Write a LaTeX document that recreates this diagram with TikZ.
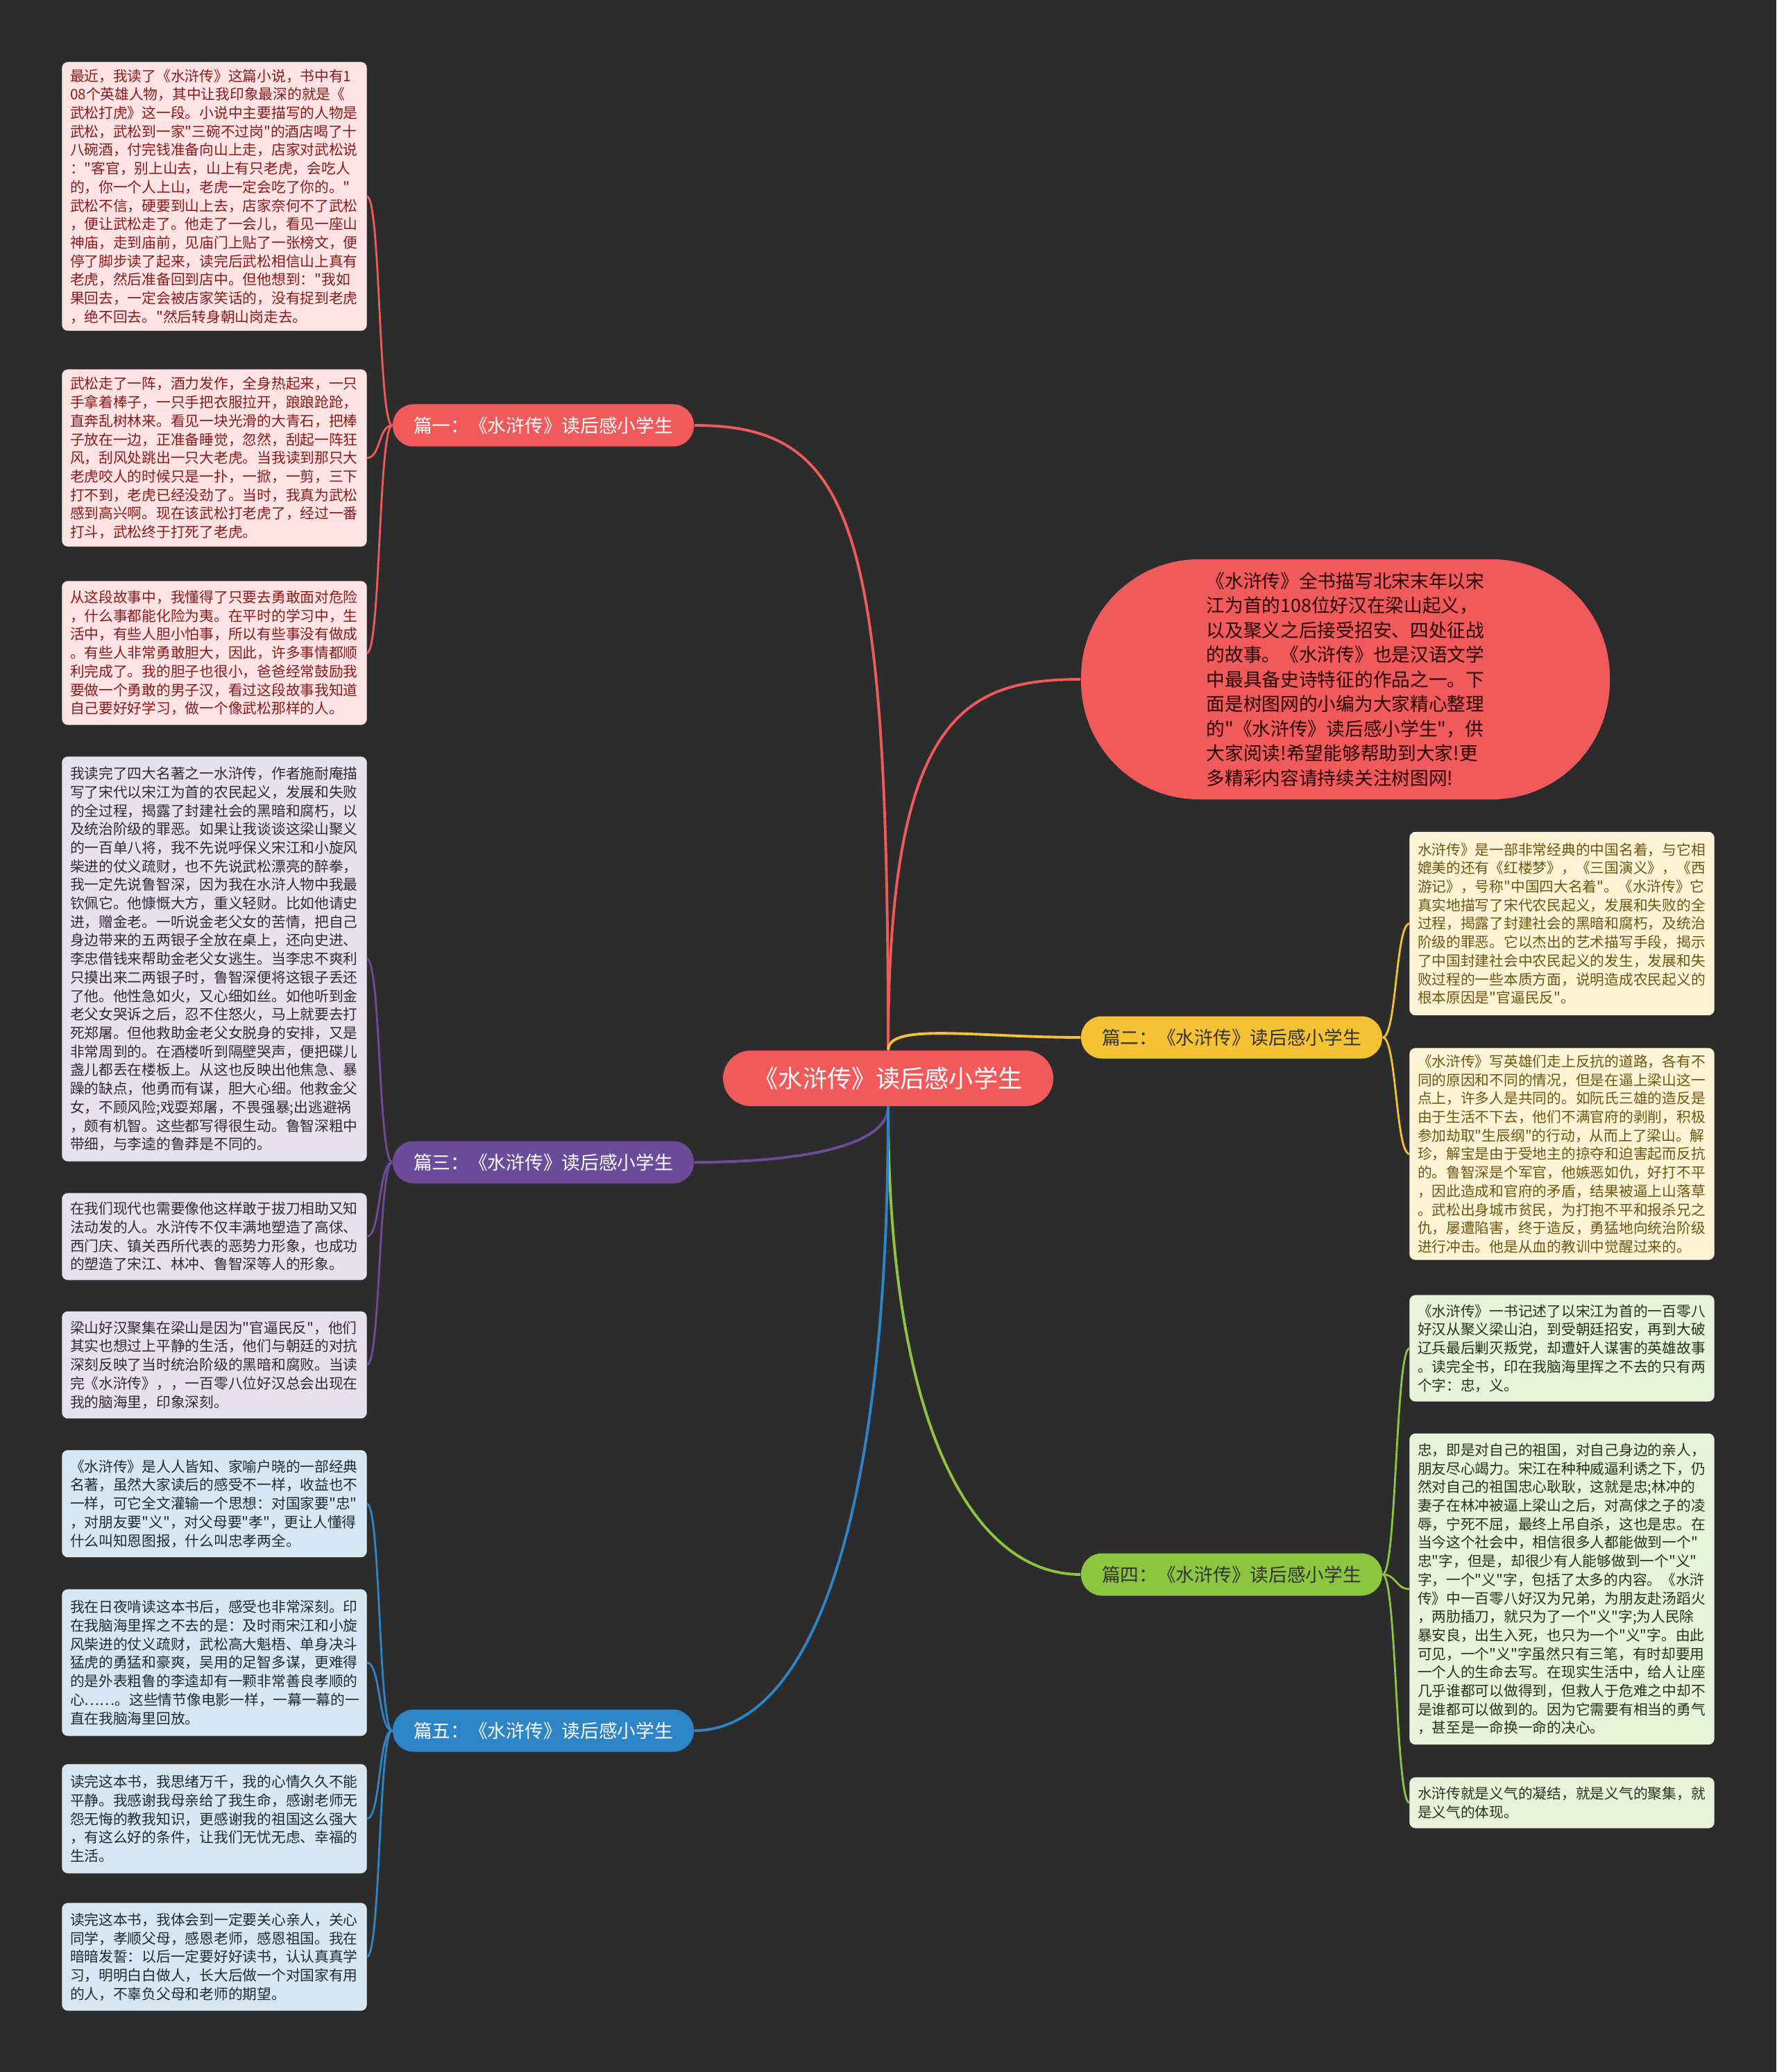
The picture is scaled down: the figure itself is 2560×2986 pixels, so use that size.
\documentclass[tikz,border=0pt]{standalone}
\usepackage{fontspec}
\newfontfamily\cjk{Noto Sans CJK SC}
\usepackage{tikz}
\usetikzlibrary{positioning}
\definecolor{bgcol}{HTML}{2C2C2C}
\definecolor{redc}{HTML}{F15A5A}
\definecolor{yellowc}{HTML}{F5C234}
\definecolor{purplec}{HTML}{6B4C9A}
\definecolor{bluec}{HTML}{2D84C6}
\definecolor{greenc}{HTML}{8CC540}
\definecolor{pinkfill}{HTML}{FDE3E3}
\definecolor{pinktext}{HTML}{8A1A1A}
\definecolor{lavfill}{HTML}{E6E1EF}
\definecolor{lavtext}{HTML}{2E2A3A}
\definecolor{skyfill}{HTML}{D6E7F3}
\definecolor{skytext}{HTML}{1E2B36}
\definecolor{creamfill}{HTML}{FDF4D6}
\definecolor{creamtext}{HTML}{6E5612}
\definecolor{leaffill}{HTML}{E8F2D9}
\definecolor{leaftext}{HTML}{26331A}
\tikzset{
  leaf/.style={rounded corners=0.8mm, align=left, text width=41.6mm, inner xsep=1.1mm, inner ysep=0pt, line width=0.4pt, font=\cjk\fontsize{5.9}{7.6}\selectfont},
  leafpink/.style={leaf, fill=pinkfill, draw=pinkfill!80!white, text=pinktext},
  leaflav/.style={leaf, fill=lavfill, draw=lavfill!80!white, text=lavtext},
  leafsky/.style={leaf, fill=skyfill, draw=skyfill!80!white, text=skytext},
  leafcream/.style={leaf, fill=creamfill, draw=creamfill!80!white, text=creamtext},
  leafgreen/.style={leaf, fill=leaffill, draw=leaffill!80!white, text=leaftext},
  branch/.style={rounded corners=3mm, minimum width=43.4mm, minimum height=6.1mm, inner sep=0pt, font=\cjk\fontsize{7.6}{9}\selectfont},
  link/.style={line width=1.1pt},
  twig/.style={line width=0.8pt}
}

\begin{document}
\begin{tikzpicture}[x=0.1mm, y=-0.1mm]
\fill[bgcol] (0,0) rectangle (2560,2986);

% centre and intro
\node[rounded corners=4mm, fill=redc, text=white, minimum width=47.6mm, minimum height=8mm, inner sep=0pt, font=\cjk\fontsize{10}{12}\selectfont] (theme) at (1280,1554) {《水浒传》读后感小学生};
\node[rounded corners=17mm, fill=redc, text=black!85!red, minimum width=76.2mm, minimum height=34.6mm, align=left, inner sep=0pt, font=\cjk\fontsize{7.6}{10.1}\selectfont] (intro) at (1939,979) {《水浒传》全书描写北宋末年以宋\\江为首的108位好汉在梁山起义，\\以及聚义之后接受招安、四处征战\\的故事。《水浒传》也是汉语文学\\中最具备史诗特征的作品之一。下\\面是树图网的小编为大家精心整理\\的"《水浒传》读后感小学生"，供\\大家阅读!希望能够帮助到大家!更\\多精彩内容请持续关注树图网!};

% branches
\node[branch, fill=redc, text=white] (p1) at (783,613) {篇一：《水浒传》读后感小学生};
\node[branch, fill=yellowc, text=black!80] (p2) at (1775,1495) {篇二：《水浒传》读后感小学生};
\node[branch, fill=purplec, text=white] (p3) at (783,1675) {篇三：《水浒传》读后感小学生};
\node[branch, fill=greenc, text=black!80] (p4) at (1775,2269) {篇四：《水浒传》读后感小学生};
\node[branch, fill=bluec, text=white] (p5) at (783,2494) {篇五：《水浒传》读后感小学生};

% leaves of p1
\node[leafpink, minimum height=38.6mm] (p1a) at (309,283) {最近，我读了《水浒传》这篇小说，书中有1\\08个英雄人物，其中让我印象最深的就是《\\武松打虎》这一段。小说中主要描写的人物是\\武松，武松到一家"三碗不过岗"的酒店喝了十\\八碗酒，付完钱准备向山上走，店家对武松说\\："客官，别上山去，山上有只老虎，会吃人\\的，你一个人上山，老虎一定会吃了你的。"\\武松不信，硬要到山上去，店家奈何不了武松\\，便让武松走了。他走了一会儿，看见一座山\\神庙，走到庙前，见庙门上贴了一张榜文，便\\停了脚步读了起来，读完后武松相信山上真有\\老虎，然后准备回到店中。但他想到："我如\\果回去，一定会被店家笑话的，没有捉到老虎\\，绝不回去。"然后转身朝山岗走去。};
\node[leafpink, minimum height=25.4mm] (p1b) at (309,660) {武松走了一阵，酒力发作，全身热起来，一只\\手拿着棒子，一只手把衣服拉开，踉踉跄跄，\\直奔乱树林来。看见一块光滑的大青石，把棒\\子放在一边，正准备睡觉，忽然，刮起一阵狂\\风，刮风处跳出一只大老虎。当我读到那只大\\老虎咬人的时候只是一扑，一掀，一剪，三下\\打不到，老虎已经没劲了。当时，我真为武松\\感到高兴啊。现在该武松打老虎了，经过一番\\打斗，武松终于打死了老虎。};
\node[leafpink, minimum height=20.6mm] (p1c) at (309,941) {从这段故事中，我懂得了只要去勇敢面对危险\\，什么事都能化险为夷。在平时的学习中，生\\活中，有些人胆小怕事，所以有些事没有做成\\。有些人非常勇敢胆大，因此，许多事情都顺\\利完成了。我的胆子也很小，爸爸经常鼓励我\\要做一个勇敢的男子汉，看过这段故事我知道\\自己要好好学习，做一个像武松那样的人。};

% leaves of p3
\node[leaflav, minimum height=58.2mm] (p3a) at (309,1382) {我读完了四大名著之一水浒传，作者施耐庵描\\写了宋代以宋江为首的农民起义，发展和失败\\的全过程，揭露了封建社会的黑暗和腐朽，以\\及统治阶级的罪恶。如果让我谈谈这梁山聚义\\的一百单八将，我不先说呼保义宋江和小旋风\\柴进的仗义疏财，也不先说武松漂亮的醉拳，\\我一定先说鲁智深，因为我在水浒人物中我最\\钦佩它。他慷慨大方，重义轻财。比如他请史\\进，赠金老。一听说金老父女的苦情，把自己\\身边带来的五两银子全放在桌上，还向史进、\\李忠借钱来帮助金老父女逃生。当李忠不爽利\\只摸出来二两银子时，鲁智深便将这银子丢还\\了他。他性急如火，又心细如丝。如他听到金\\老父女哭诉之后，忍不住怒火，马上就要去打\\死郑屠。但他救助金老父女脱身的安排，又是\\非常周到的。在酒楼听到隔壁哭声，便把碟儿\\盏儿都丢在楼板上。从这也反映出他焦急、暴\\躁的缺点，他勇而有谋，胆大心细。他救金父\\女，不顾风险;戏耍郑屠，不畏强暴;出逃避祸\\，颇有机智。这些都写得很生动。鲁智深粗中\\带细，与李逵的鲁莽是不同的。};
\node[leaflav, minimum height=12.4mm] (p3b) at (309,1782) {在我们现代也需要像他这样敢于拔刀相助又知\\法动发的人。水浒传不仅丰满地塑造了高俅、\\西门庆、镇关西所代表的恶势力形象，也成功\\的塑造了宋江、林冲、鲁智深等人的形象。};
\node[leaflav, minimum height=15.3mm] (p3c) at (309,1967) {梁山好汉聚集在梁山是因为"官逼民反"，他们\\其实也想过上平静的生活，他们与朝廷的对抗\\深刻反映了当时统治阶级的黑暗和腐败。当读\\完《水浒传》，，一百零八位好汉总会出现在\\我的脑海里，印象深刻。};

% leaves of p5
\node[leafsky, minimum height=15.3mm] (p5a) at (309,2167) {《水浒传》是人人皆知、家喻户晓的一部经典\\名著，虽然大家读后的感受不一样，收益也不\\一样，可它全文灌输一个思想：对国家要"忠"\\，对朋友要"义"，对父母要"孝"，更让人懂得\\什么叫知恩图报，什么叫忠孝两全。};
\node[leafsky, minimum height=21mm] (p5b) at (309,2396) {我在日夜啃读这本书后，感受也非常深刻。印\\在我脑海里挥之不去的是：及时雨宋江和小旋\\风柴进的仗义疏财，武松高大魁梧、单身决斗\\猛虎的勇猛和豪爽，吴用的足智多谋，更难得\\的是外表粗鲁的李逵却有一颗非常善良孝顺的\\心……。这些情节像电影一样，一幕一幕的一\\直在我脑海里回放。};
\node[leafsky, minimum height=15.6mm] (p5c) at (309,2621) {读完这本书，我思绪万千，我的心情久久不能\\平静。我感谢我母亲给了我生命，感谢老师无\\怨无悔的教我知识，更感谢我的祖国这么强大\\，有这么好的条件，让我们无忧无虑、幸福的\\生活。};
\node[leafsky, minimum height=15.4mm] (p5d) at (309,2820) {读完这本书，我体会到一定要关心亲人，关心\\同学，孝顺父母，感恩老师，感恩祖国。我在\\暗暗发誓：以后一定要好好读书，认认真真学\\习，明明白白做人，长大后做一个对国家有用\\的人，不辜负父母和老师的期望。};

% leaves of p2
\node[leafcream, minimum height=26.3mm] (p2a) at (2251,1331) {水浒传》是一部非常经典的中国名着，与它相\\媲美的还有《红楼梦》，《三国演义》，《西\\游记》，号称"中国四大名着"。《水浒传》它\\真实地描写了宋代农民起义，发展和失败的全\\过程，揭露了封建社会的黑暗和腐朽，及统治\\阶级的罪恶。它以杰出的艺术描写手段，揭示\\了中国封建社会中农民起义的发生，发展和失\\败过程的一些本质方面，说明造成农民起义的\\根本原因是"官逼民反"。};
\node[leafcream, minimum height=30.4mm] (p2b) at (2251,1663) {《水浒传》写英雄们走上反抗的道路，各有不\\同的原因和不同的情况，但是在逼上梁山这一\\点上，许多人是共同的。如阮氏三雄的造反是\\由于生活不下去，他们不满官府的剥削，积极\\参加劫取"生辰纲"的行动，从而上了梁山。解\\珍，解宝是由于受地主的掠夺和迫害起而反抗\\的。鲁智深是个军官，他嫉恶如仇，好打不平\\，因此造成和官府的矛盾，结果被逼上山落草\\。武松出身城市贫民，为打抱不平和报杀兄之\\仇，屡遭陷害，终于造反，勇猛地向统治阶级\\进行冲击。他是从血的教训中觉醒过来的。};

% leaves of p4
\node[leafgreen, minimum height=15.2mm] (p4a) at (2251,1943) {《水浒传》一书记述了以宋江为首的一百零八\\好汉从聚义梁山泊，到受朝廷招安，再到大破\\辽兵最后剿灭叛党，却遭奸人谋害的英雄故事\\。读完全书，印在我脑海里挥之不去的只有两\\个字：忠，义。};
\node[leafgreen, minimum height=44.7mm] (p4b) at (2251,2290) {忠，即是对自己的祖国，对自己身边的亲人，\\朋友尽心竭力。宋江在种种威逼利诱之下，仍\\然对自己的祖国忠心耿耿，这就是忠;林冲的\\妻子在林冲被逼上梁山之后，对高俅之子的凌\\辱，宁死不屈，最终上吊自杀，这也是忠。在\\当今这个社会中，相信很多人都能做到一个"\\忠"字，但是，却很少有人能够做到一个"义"\\字，一个"义"字，包括了太多的内容。《水浒\\传》中一百零八好汉为兄弟，为朋友赴汤蹈火\\，两肋插刀，就只为了一个"义"字;为人民除\\暴安良，出生入死，也只为一个"义"字。由此\\可见，一个"义"字虽然只有三笔，有时却要用\\一个人的生命去写。在现实生活中，给人让座\\几乎谁都可以做得到，但救人于危难之中却不\\是谁都可以做到的。因为它需要有相当的勇气\\，甚至是一命换一命的决心。};
\node[leafgreen, minimum height=7.2mm] (p4c) at (2251,2598) {水浒传就是义气的凝结，就是义气的聚集，就\\是义气的体现。};

% centre to branches
\draw[link, redc] (theme.north) .. controls +(0,-760) and +(230,0) .. (p1.east);
\draw[link, redc] (theme.north) .. controls +(0,-480) and +(-170,0) .. (intro.west);
\draw[link, yellowc] (theme.north) .. controls +(0,-40) and +(-150,0) .. (p2.west);
\draw[link, purplec] (theme.south) .. controls +(0,60) and +(140,0) .. (p3.east);
\draw[link, greenc] (theme.south) .. controls +(0,450) and +(-160,0) .. (p4.west);
\draw[link, bluec] (theme.south) .. controls +(0,650) and +(150,0) .. (p5.east);

% branches to leaves
\foreach \leaf in {p1a,p1b,p1c}
  \draw[twig, redc] (p1.west) .. controls +(-20,0) and +(20,0) .. (\leaf.east);
\foreach \leaf in {p3a,p3b,p3c}
  \draw[twig, purplec] (p3.west) .. controls +(-20,0) and +(20,0) .. (\leaf.east);
\foreach \leaf in {p5a,p5b,p5c,p5d}
  \draw[twig, bluec] (p5.west) .. controls +(-20,0) and +(20,0) .. (\leaf.east);
\foreach \leaf in {p2a,p2b}
  \draw[twig, yellowc] (p2.east) .. controls +(20,0) and +(-20,0) .. (\leaf.west);
\foreach \leaf in {p4a,p4b,p4c}
  \draw[twig, greenc] (p4.east) .. controls +(20,0) and +(-20,0) .. (\leaf.west);
\end{tikzpicture}
\end{document}
